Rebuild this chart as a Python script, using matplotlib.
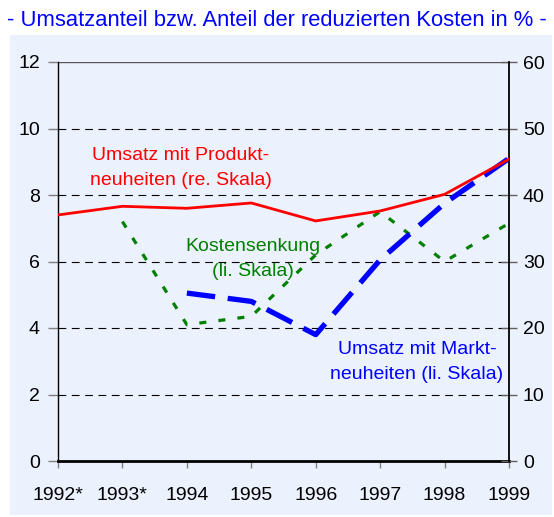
import matplotlib
matplotlib.use("Agg")
import matplotlib.pyplot as plt
from matplotlib.patches import Rectangle
from matplotlib import font_manager

years = ["1992*", "1993*", "1994", "1995", "1996", "1997", "1998", "1999"]
# right scale (%)
produkt = [37.0, 38.3, 38.0, 38.8, 36.1, 37.6, 40.1, 45.4]
# left scale (%)
kosten = [None, 7.2, 4.1, 4.35, 6.2, 7.5, 6.0, 7.15]
markt = [None, None, 5.05, 4.8, 3.8, 6.05, 7.75, 9.1]
left_ticks = [0, 2, 4, 6, 8, 10, 12]
right_ticks = [0, 10, 20, 30, 40, 50, 60]

names = {f.name for f in font_manager.fontManager.ttflist}
narrow = [n for n in ["Liberation Sans Narrow", "Arial Narrow"] if n in names]
FAM = narrow + ["Liberation Sans", "DejaVu Sans"]
plt.rcParams["font.family"] = FAM

W, H = 554, 517
fig = plt.figure(figsize=(W / 100, H / 100), dpi=100)
fig.patch.set_facecolor("white")
bg = "#EBF1FD"
fig.add_artist(Rectangle((10 / W, 1 - 515 / H), 542 / W, 480 / H,
                         transform=fig.transFigure, facecolor=bg,
                         edgecolor="none", zorder=-10))

ax = fig.add_axes([58 / W, 1 - 461 / H, 451 / W, 399 / H])
ax.set_facecolor("none")
ax2 = ax.twinx()
ax2.set_facecolor("none")

x = list(range(len(years)))
ax.set_xlim(0, 7)
ax.set_ylim(0, 12)
ax2.set_ylim(0, 60)

for v in [2, 4, 6, 8, 10]:
    ax.axhline(v, color="black", lw=0.8, dashes=(7, 5), zorder=1)
ax.axhline(12, color="#555555", lw=1.0, zorder=1)

kx = [i for i, v in enumerate(kosten) if v is not None]
ky = [v for v in kosten if v is not None]
mx = [i for i, v in enumerate(markt) if v is not None]
my = [v for v in markt if v is not None]

ax.plot(kx, ky, color="#008000", lw=2.3, dashes=(2.2, 3.8), zorder=3,
        solid_capstyle="butt", dash_capstyle="butt")
ax.plot(mx, my, color="#0000FF", lw=3.8, dashes=(5.4, 2.4), zorder=4,
        dash_capstyle="butt")
ax2.plot(x, produkt, color="#FF0000", lw=2.0, zorder=5)

for s in ["top"]:
    ax.spines[s].set_visible(False)
    ax2.spines[s].set_visible(False)
ax.spines["right"].set_visible(False)
ax2.spines["left"].set_visible(False)
ax2.spines["bottom"].set_visible(False)
ax.spines["left"].set_color("black")
ax.spines["left"].set_linewidth(1.0)
ax.spines["bottom"].set_color("black")
ax.spines["bottom"].set_linewidth(2.0)
ax2.spines["right"].set_color("black")
ax2.spines["right"].set_linewidth(1.3)

fs = 14
ax.set_xticks(x)
ax.set_xticklabels(years, fontsize=fs)
ax.set_yticks(left_ticks)
ax.set_yticklabels([str(t) for t in left_ticks], fontsize=fs)
ax2.set_yticks(right_ticks)
ax2.set_yticklabels([str(t) for t in right_ticks], fontsize=fs)
ax.tick_params(axis="y", direction="out", length=7, width=1, color="#808080", pad=6)
ax.tick_params(axis="x", direction="out", length=5, width=1, color="#808080", pad=14)
ax2.tick_params(axis="y", direction="inout", length=12, width=1, color="#606060", pad=4)

fig.text(0.5, 1 - 20 / H, "- Umsatzanteil bzw. Anteil der reduzierten Kosten in % -",
         color="#0000FF", fontsize=15.8, ha="center", va="center",
         family=["Liberation Sans", "DejaVu Sans"])

fa = 14
ls = 1.6
ax.text((181 - 58) / 451 * 7, (461 - 168) / 399 * 12, "Umsatz mit Produkt-\nneuheiten (re. Skala)",
        color="#FF0000", fontsize=fa, ha="center", va="center", linespacing=ls, zorder=6)
ax.text((253 - 58) / 451 * 7, (461 - 259) / 399 * 12, "Kostensenkung\n(li. Skala)",
        color="#008000", fontsize=fa, ha="center", va="center", linespacing=ls, zorder=6)
ax.text((417 - 58) / 451 * 7, (461 - 362) / 399 * 12, "Umsatz mit Markt-\nneuheiten (li. Skala)",
        color="#0000FF", fontsize=fa, ha="center", va="center", linespacing=ls, zorder=6)

fig.savefig("out.png", dpi=100, facecolor="white")
